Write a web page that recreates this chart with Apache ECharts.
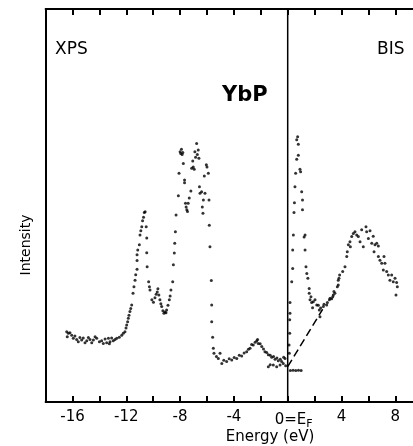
<!DOCTYPE html>
<html><head><meta charset="utf-8">
<script src="https://cdn.jsdelivr.net/npm/echarts@6/dist/echarts.min.js"></script>
<style>html,body{margin:0;padding:0;background:#fff;overflow:hidden}#c{width:413px;height:446px}</style>
</head><body><div id="c"></div>
<script>
// Energy (eV) vs intensity (arb. units, 0-100)
const xpsPoints = [
[-16.43,17.9],[-16.39,16.6],[-16.31,17.5],[-16.19,17.6],[-16.06,17.0],[-15.94,16.2],[-15.82,16.8],[-15.69,15.9],[-15.57,15.3],[-15.45,16.4],[-15.32,15.8],[-15.2,16.3],[-15.07,15.1],[-14.94,15.6],[-14.82,16.4],[-14.7,15.9],[-14.57,15.1],[-14.45,15.8],[-14.32,16.6],[-14.2,16.2],[-14.0,15.3],[-13.83,15.6],[-13.71,14.9],[-13.58,16.0],[-13.46,15.1],[-13.33,16.2],[-13.26,14.8],[-13.21,15.3],[-13.09,16.3],[-12.97,15.6],[-12.84,15.9],[-12.71,16.2],[-12.52,16.5],[-12.34,17.0],[-12.22,17.5],[-12.1,17.9],[-12.02,18.8],[-11.97,19.6],[-11.9,20.4],[-11.85,21.3],[-11.8,22.1],[-11.73,23.0],[-11.67,23.8],[-11.6,24.7],
[-11.5,27.7],[-11.43,29.3],[-11.35,31.0],[-11.3,32.4],[-11.2,33.8],[-11.2,36.0],[-11.2,37.5],[-11.15,38.7],[-11.03,40.0],[-10.98,42.5],[-10.92,43.6],[-10.85,44.6],[-10.79,46.1],[-10.72,47.0],[-10.66,48.2],[-10.6,48.4],
[-10.52,44.6],[-10.48,41.7],[-10.48,38.0],[-10.45,34.4],[-10.34,30.6],[-10.28,29.3],[-10.24,28.5],[-10.1,26.0],[-9.98,25.4],[-9.87,26.5],[-9.78,27.4],[-9.7,28.0],[-9.65,28.8],[-9.58,27.2],[-9.5,26.0],[-9.43,25.0],[-9.37,24.3],[-9.28,23.2],[-9.2,22.6],[-9.12,22.9],[-9.05,22.7],[-9.0,23.4],[-8.9,24.6],[-8.8,26.0],[-8.74,27.0],[-8.68,28.5],[-8.55,30.6],[-8.5,34.9],[-8.43,37.9],[-8.4,40.4],[-8.35,43.3],[-8.3,47.6],
[-8.13,52.5],[-8.08,58.2],[-8.0,63.7],[-7.95,63.2],[-7.9,64.3],[-7.85,63.0],[-7.8,63.5],[-7.76,60.7],[-7.67,56.5],[-7.67,55.8],[-7.6,50.6],[-7.55,49.6],[-7.5,48.9],[-7.45,48.5],[-7.4,50.6],[-7.32,51.9],[-7.2,53.7],[-7.14,59.5],[-7.06,61.3],[-7.02,59.8],[-6.95,59.2],[-6.9,63.7],[-6.85,62.3],[-6.77,65.8],[-6.72,63.0],[-6.65,64.1],[-6.6,62.0],[-6.56,54.8],[-6.52,53.1],[-6.4,53.5],[-6.35,49.6],[-6.3,48.0],[-6.27,51.4],[-6.2,57.5],[-6.15,53.1],[-6.05,60.4],[-6.0,59.8],[-5.9,58.2],[-5.85,51.4],[-5.83,45.0],[-5.78,39.5],[-5.68,30.9],[-5.65,24.7],[-5.65,20.4],[-5.58,16.5],[-5.53,13.7],[-5.48,12.4],[-5.3,11.6],[-5.16,11.1],[-5.03,12.4],[-4.9,9.8],[-4.75,10.6],[-4.54,10.3],[-4.35,11.0],[-4.16,10.7],[-3.98,11.3],[-3.79,11.1],[-3.6,11.9],[-3.42,11.7],[-3.24,12.5],[-3.05,12.8],[-2.92,13.4],[-2.8,13.7],[-2.68,14.6],[-2.56,14.5],[-2.42,15.2],[-2.3,15.6],[-2.24,15.9],[-2.19,14.9],[-2.05,14.8],[-1.93,14.1],[-1.8,13.5],[-1.69,12.8],[-1.56,12.6],[-1.44,12.0],[-1.3,11.9],[-1.19,11.4],[-1.05,11.6],[-0.94,10.9],[-0.8,11.2],[-0.7,10.5],[-0.55,10.9],[-0.45,10.3],[-0.3,11.4],[-0.2,11.1],[-1.44,9.0],[-1.3,9.5],[-1.07,9.4],[-0.82,9.0],[-0.57,9.4],[-0.33,9.8],[-0.15,9.2]
];
const bisPoints = [
[0.2,8.0],[0.4,8.1],[0.6,8.0],[0.8,8.1],[1.0,8.0],[0.12,12.4],[0.1,14.5],[0.15,17.5],[0.15,20.9],[0.17,22.6],[0.17,25.3],
[0.3,30.6],[0.37,34.0],[0.37,38.7],[0.42,42.5],[0.47,48.2],[0.5,50.7],[0.54,54.8],[0.59,58.2],[0.67,61.8],[0.67,66.7],[0.74,67.5],[0.79,65.6],[0.79,62.8],[0.91,59.2],[0.96,58.6],[1.04,53.5],[1.1,51.4],[1.1,48.9],[1.29,42.5],[1.22,42.0],[1.29,38.7],[1.36,34.4],[1.42,32.7],[1.5,31.5],[1.6,28.9],[1.6,27.7],[1.73,26.8],[1.66,26.0],[1.78,25.3],[1.9,25.5],[2.03,26.0],[1.85,24.0],[2.16,24.7],[2.28,24.6],[2.35,23.4],[2.45,23.9],[2.4,21.7],[2.65,24.3],[2.7,24.9],[2.9,24.7],[2.95,25.3],[3.1,26.0],[3.15,26.4],[3.27,26.3],[3.35,26.8],[3.39,27.2],[3.44,28.1],[3.51,27.7],[3.69,29.3],[3.76,29.8],[3.76,31.0],[3.81,31.5],[3.86,32.3],[4.09,33.2],[4.26,34.4],[4.39,37.0],[4.43,38.2],[4.51,40.0],[4.63,40.8],[4.66,39.5],[4.76,42.1],[4.88,42.9],[5.0,43.3],[5.13,42.5],[5.25,42.1],[5.38,40.8],[5.5,43.8],[5.62,39.5],[5.82,44.6],[5.87,43.3],[6.0,41.6],[6.12,43.6],[6.25,40.4],[6.36,42.2],[6.49,40.0],[6.62,40.4],[6.74,39.7],[6.42,38.2],[6.74,37.0],[6.86,36.1],[7.16,37.0],[6.99,35.3],[7.23,35.3],[7.11,33.6],[7.36,33.2],[7.48,32.3],[7.6,31.0],[7.73,32.3],[7.85,30.6],[7.98,31.5],[8.1,30.4],[8.15,29.3],[8.05,27.2]
];
const backgroundLine = [[0.0,9.0],[2.6,23.6]];
const fermiLine = [[0,0],[0,100]];
const labeledTicks = [-16,-12,-8,-4,0,4,8];

const chart = echarts.init(document.getElementById('c'), null, {renderer:'canvas'});
const FONT = 'DejaVu Sans';
const axisCommon = {
  type:'value', min:-18, max:11.74, interval:2,
  axisLine:{show:true, onZero:false, lineStyle:{color:'#000', width:2}},
  axisTick:{show:true, inside:true, length:6, lineStyle:{color:'#000', width:2}},
  splitLine:{show:false}
};
chart.setOption({
  animation:false,
  grid:{left:45.6, width:400, top:9, height:393, containLabel:false, outerBoundsMode:'none'},
  xAxis:[
    Object.assign({}, axisCommon, {position:'bottom',
      axisLabel:{show:true, margin:8, color:'#000', fontFamily:FONT, fontSize:15,
        formatter:function(v){
          if (labeledTicks.indexOf(v) < 0) return '';
          if (v === 0) return '{z|0=E}{s|F}';
          return String(v);
        },
        rich:{
          z:{fontFamily:FONT, fontSize:15, color:'#000', padding:[0,0,0,12]},
          s:{fontFamily:FONT, fontSize:11, color:'#000', padding:[9,0,0,0]}
        }
      }}),
    Object.assign({}, axisCommon, {position:'top', axisLabel:{show:false}})
  ],
  yAxis:{type:'value', min:0, max:100,
    axisLine:{show:true, onZero:false, lineStyle:{color:'#000', width:2}},
    axisTick:{show:false}, axisLabel:{show:false}, splitLine:{show:false}},
  series:[
    {type:'line', data:fermiLine, symbol:'none', lineStyle:{color:'#000', width:1.5}, silent:true},
    {type:'line', data:backgroundLine, symbol:'none', lineStyle:{color:'#000', width:1.5, type:[8,4]}, silent:true},
    {type:'scatter', data:xpsPoints, symbolSize:3, itemStyle:{color:'#000'}},
    {type:'scatter', data:bisPoints, symbolSize:3, itemStyle:{color:'#000'}}
  ],
  graphic:[
    {type:'text', left:55, top:41, style:{text:'XPS', font:'17px "DejaVu Sans"', fill:'#000'}},
    {type:'text', left:377, top:41, style:{text:'BIS', font:'17px "DejaVu Sans"', fill:'#000'}},
    {type:'text', left:222, top:85, style:{text:'YbP', font:'bold 21px "DejaVu Sans"', fill:'#000'}},
    {type:'text', x:270, y:437, style:{text:'Energy (eV)', font:'15px "DejaVu Sans"', fill:'#000', align:'center', verticalAlign:'middle'}},
    {type:'text', x:26, y:245, rotation:Math.PI/2, style:{text:'Intensity', font:'14px "DejaVu Sans"', fill:'#000', align:'center', verticalAlign:'middle'}}
  ]
});
</script></body></html>
